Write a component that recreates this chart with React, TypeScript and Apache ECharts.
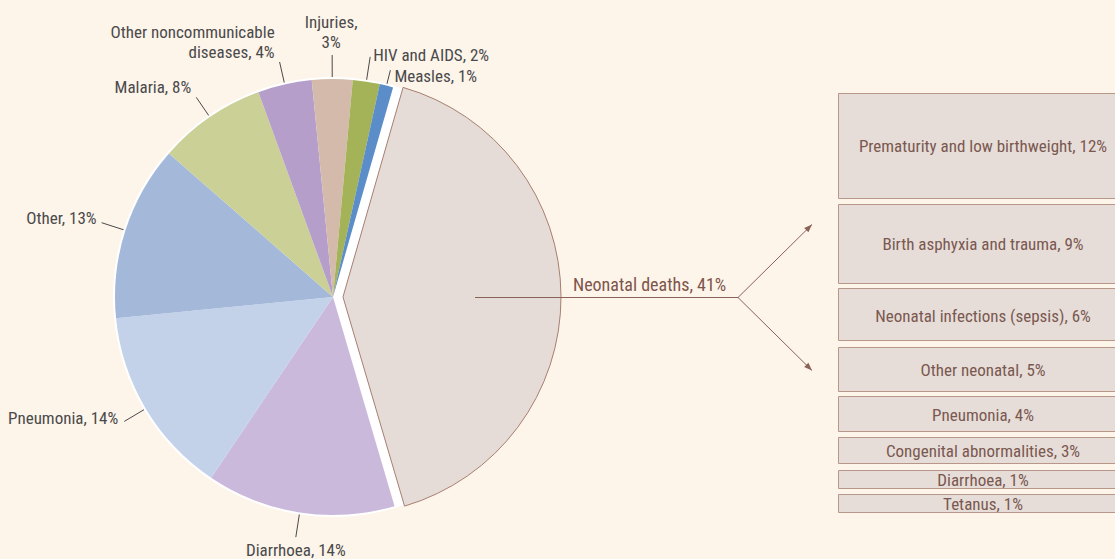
import React, { useEffect, useRef } from 'react';
import * as echarts from 'echarts';

// ---- data ----
const CATEGORIES = [
  'Neonatal deaths',
  'Diarrhoea',
  'Pneumonia',
  'Other',
  'Malaria',
  'Other noncommunicable diseases',
  'Injuries',
  'HIV and AIDS',
  'Measles',
];
const VALUES = [41, 14, 14, 13, 8, 4, 3, 2, 1];
const COLORS = ['#e6dcd7', '#cbb9dc', '#c4d2e9', '#a4b9da', '#cbd097', '#b69ecb', '#d3baaa', '#a4b357', '#5b8ec8'];

const NEO_CATEGORIES = [
  'Prematurity and low birthweight',
  'Birth asphyxia and trauma',
  'Neonatal infections (sepsis)',
  'Other neonatal',
  'Pneumonia',
  'Congenital abnormalities',
  'Diarrhoea',
  'Tetanus',
];
const NEO_VALUES = [12, 9, 6, 5, 4, 3, 1, 1];

// ---- styles ----
const FONT = "'Roboto Condensed', 'DejaVu Sans Condensed', sans-serif";
const BG = '#fdf4ea';
const BROWN = '#8a6257';
const TEXT_GREY = '#4a4a4a';
const LINE_LEN = [0, 25, 25, 25, 24, 23, 24, 25, 16];
// [align, verticalAlign, dx, dy] relative to the end of the label line
const LABEL_ANCHOR: any[] = [
  null,
  ['center', 'top', 0, 3],
  ['right', 'middle', -6, -3],
  ['right', 'middle', -5, -5],
  ['right', 'bottom', -5, 0],
  ['right', 'bottom', -5, 0],
  ['center', 'bottom', -1, -3],
  ['left', 'middle', 3, -2],
  ['left', 'middle', 4, 6],
];
const WRAP_AFTER_WORD = [0, 0, 0, 0, 0, 2, 1, 0, 0];
const BOX_GAP = 6;
const MIN_BOX_H = 18;
const BOX_SPAN = 1.047; // boxes run slightly past the right edge of the picture

function arrowHead(x1: number, y1: number, x2: number, y2: number) {
  const dx = x2 - x1;
  const dy = y2 - y1;
  const len = Math.sqrt(dx * dx + dy * dy);
  const ux = dx / len;
  const uy = dy / len;
  const bx = x2 - ux * 8;
  const by = y2 - uy * 8;
  const px = -uy * 3;
  const py = ux * 3;
  return {
    type: 'polygon',
    z: 100,
    shape: { points: [[x2, y2], [bx + px, by + py], [bx - px, by - py]] },
    style: { fill: BROWN },
  };
}

export default function App() {
  const ref = useRef<HTMLDivElement>(null);
  useEffect(() => {
    if (!ref.current) return;
    const chart = echarts.init(ref.current, undefined, { renderer: 'svg' });
    const lineStyle = { stroke: BROWN, lineWidth: 1 };
    const hub = [738, 297.5];
    const up = [812, 224.5];
    const down = [812, 370.5];
    chart.setOption({
      animation: false,
      backgroundColor: BG,
      grid: { left: 838, top: 93, right: 0, height: 358 },
      xAxis: { type: 'value', min: 0, max: 1, show: false },
      yAxis: { type: 'value', min: 0, max: 41, inverse: true, show: false },
      graphic: [
        { type: 'line', z: 100, shape: { x1: 475, y1: hub[1], x2: hub[0], y2: hub[1] }, style: lineStyle },
        { type: 'line', z: 100, shape: { x1: hub[0], y1: hub[1], x2: up[0], y2: up[1] }, style: lineStyle },
        { type: 'line', z: 100, shape: { x1: hub[0], y1: hub[1], x2: down[0], y2: down[1] }, style: lineStyle },
        arrowHead(hub[0], hub[1], up[0], up[1]),
        arrowHead(hub[0], hub[1], down[0], down[1]),
      ],
      series: [
        {
          type: 'pie',
          silent: true,
          center: [333, 297],
          radius: 218,
          startAngle: 74,
          clockwise: true,
          avoidLabelOverlap: false,
          label: { show: false },
          labelLine: { show: false },
          itemStyle: { color: '#ffffff', borderColor: '#ffffff', borderWidth: 4 },
          emphasis: { disabled: true },
          data: CATEGORIES.map((name, i) => ({ name, value: VALUES[i] })),
        },
        {
          type: 'pie',
          center: [333, 297],
          radius: 218,
          startAngle: 74,
          clockwise: true,
          selectedMode: 'single',
          selectedOffset: 10,
          avoidLabelOverlap: false,
          emphasis: { disabled: true },
          itemStyle: { borderWidth: 0 },
          label: {
            show: true,
            position: 'outside',
            color: TEXT_GREY,
            fontSize: 17,
            lineHeight: 20,
            fontFamily: FONT,
            formatter: (p: any) => {
              const words = `${p.name}, ${p.value}%`.split(' ');
              const k = WRAP_AFTER_WORD[p.dataIndex];
              if (!k) return words.join(' ');
              return words.slice(0, k).join(' ') + '\n' + words.slice(k).join(' ');
            },
          },
          labelLine: { show: true, length: 25, length2: 0, lineStyle: { color: TEXT_GREY, width: 1 } },
          labelLayout: (params: any) => {
            const i = params.dataIndex;
            if (i === 0) {
              return { dx: 7, dy: -12 };
            }
            const pts = params.labelLinePoints;
            if (!pts) return {};
            const end = pts[pts.length - 1];
            const a = LABEL_ANCHOR[i];
            return { x: end[0] + a[2], y: end[1] + a[3], align: a[0], verticalAlign: a[1], labelLinePoints: pts };
          },
          data: CATEGORIES.map((name, i) => ({
            name,
            value: VALUES[i],
            selected: i === 0,
            itemStyle: i === 0
              ? { color: COLORS[i], borderColor: '#a67f70', borderWidth: 1 }
              : { color: COLORS[i], borderWidth: 0 },
            labelLine: { show: i !== 0, length: LINE_LEN[i] },
            label: i === 0 ? { color: '#7d544a', fontSize: 18 } : {},
          })),
        },
        {
          type: 'custom',
          coordinateSystem: 'cartesian2d',
          clip: false,
          data: NEO_VALUES.map((v) => [0, v]),
          renderItem: (params: any, api: any) => {
            const i = params.dataIndex;
            const p0 = api.coord([0, 0]);
            const x0 = p0[0];
            const x1 = api.coord([BOX_SPAN, 0])[0];
            const y0 = p0[1];
            const hOf = (v: number) => Math.max(Math.abs(api.coord([0, v])[1] - y0), MIN_BOX_H);
            let y = y0;
            for (let j = 0; j < i; j++) y += hOf(NEO_VALUES[j]) + BOX_GAP;
            const v = api.value(1);
            const h = hOf(v);
            return {
              type: 'group',
              children: [
                {
                  type: 'rect',
                  shape: { x: Math.round(x0) + 0.5, y: Math.round(y) + 0.5, width: x1 - x0, height: Math.round(h) },
                  style: { fill: '#e6ddd8', stroke: '#b8968a', lineWidth: 1 },
                },
                {
                  type: 'text',
                  x: (x0 + x1) / 2,
                  y: y + h / 2 + 1,
                  style: {
                    text: `${NEO_CATEGORIES[i]}, ${v}%`,
                    align: 'center',
                    verticalAlign: 'middle',
                    fill: '#7a5850',
                    fontSize: 17,
                    fontFamily: FONT,
                  },
                },
              ],
            };
          },
        },
      ],
    });
    return () => chart.dispose();
  }, []);
  return (
    <div
      ref={ref}
      style={{ position: 'fixed', left: 0, top: 0, width: 1115, height: 559, background: BG }}
    />
  );
}
